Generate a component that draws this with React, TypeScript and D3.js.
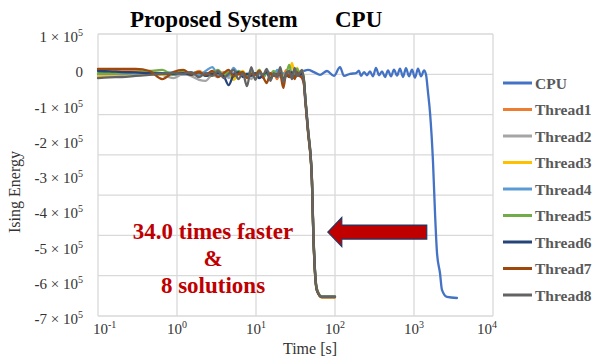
import React from 'react';
import * as d3 from 'd3';

// Ising energy vs time, proposed system (8 threads) against CPU

const W = 596;
const H = 360;
const plot = { left: 98, right: 493, top: 34, bottom: 316 };

// energies are in units of 10^5
const threadTimes = [0.1, 0.14, 0.2, 0.3, 0.45, 0.65, 0.9, 1.2, 1.5, 1.9, 2.3, 2.8, 3.3, 3.9, 4.5, 5.2, 6.0, 6.8, 7.7, 8.7, 9.8,
  11, 12.3, 13.7, 15.2, 16.8, 18.5, 20.3, 22.2, 24.2, 26.3, 28.5, 30.8, 33.2, 35.7, 38.3, 40.5, 42, 45.5, 51, 53, 56, 59, 68, 100];

const thread1 = [-0.02, -0.02, -0.04, -0.05, -0.08, -0.11, -0.12,
  -0.08, -0.13, -0.05, -0.16, -0.11, -0.19, -0.08, -0.13, -0.02, -0.16, -0.11, -0.22, -0.08, -0.16, -0.11, -0.25, -0.05, -0.19, -0.13, -0.28, -0.08, -0.16, -0.02, -0.22, -0.11, -0.19, -0.05, -0.13, -0.08,
  -0.32, -0.78, -1.66, -3.05, -4.45, -5.75, -6.22, -6.44, -6.44];
const thread2 = [-0.22, -0.19, -0.16, -0.13, -0.12, -0.16, -0.25,
  -0.13, -0.19, -0.30, -0.33, -0.16, -0.22, -0.11, -0.25, -0.16, -0.08, -0.19, -0.13, -0.28, -0.11, -0.22, -0.16, -0.08, -0.25, -0.13, -0.19, -0.05, -0.28, -0.16, -0.11, -0.22, -0.08, -0.19, -0.13, -0.16,
  -0.36, -0.82, -1.72, -3.12, -4.55, -5.8, -6.26, -6.46, -6.46];
const thread3 = [-0.18, -0.18, -0.18, -0.16, -0.16, -0.15, -0.13,
  -0.11, -0.16, -0.08, -0.13, -0.19, -0.05, -0.13, -0.08, -0.30, -0.13, -0.05, -0.22, -0.11, -0.16, -0.02, -0.19, -0.08, -0.25, -0.11, -0.16, 0.01, -0.19, -0.08, -0.13, 0.18, -0.11, 0.04, -0.13, -0.05,
  -0.3, -0.8, -1.75, -3.15, -4.6, -5.85, -6.28, -6.47, -6.47];
const thread4 = [-0.13, -0.13, -0.13, -0.12, -0.11, -0.11, -0.08,
  -0.13, -0.08, -0.16, -0.05, 0.06, -0.16, -0.11, -0.19, 0.04, -0.13, -0.08, -0.22, -0.02, -0.16, -0.11, -0.25, -0.05, -0.13, -0.19, -0.02, -0.22, -0.11, -0.16, -0.05, -0.25, -0.08, -0.13, -0.19, -0.11,
  -0.34, -0.79, -1.7, -3.1, -4.5, -5.78, -6.25, -6.45, -6.45];
const thread5 = [-0.11, -0.11, -0.09, -0.08, -0.05, -0.02, -0.16,
  -0.05, -0.13, -0.08, -0.19, -0.11, -0.02, -0.16, -0.08, -0.22, -0.05, -0.13, -0.19, -0.08, -0.16, -0.02, -0.22, -0.11, -0.13, -0.05, -0.19, -0.08, -0.25, -0.13, 0.12, -0.16, -0.08, 0.01, -0.13, -0.05,
  -0.3, -0.76, -1.68, -3.08, -4.5, -5.76, -6.24, -6.45, -6.45];
const thread6 = [-0.05, -0.06, -0.08, -0.09, -0.11, -0.12, -0.13,
  -0.11, -0.16, -0.08, -0.19, -0.13, -0.11, -0.19, -0.45, -0.16, -0.08, -0.22, -0.13, -0.19, -0.11, -0.25, -0.16, -0.08, -0.28, -0.13, -0.19, -0.11, -0.30, -0.16, -0.22, -0.08, -0.25, -0.13, -0.19, -0.11,
  -0.35, -0.82, -1.73, -3.12, -4.55, -5.8, -6.27, -6.46, -6.46];
const thread7 = [0.01, 0.01, 0.01, 0.01, -0.05, -0.28, -0.08,
  -0.02, -0.13, -0.08, -0.16, -0.05, -0.22, -0.11, -0.02, -0.19, -0.13, -0.08, -0.25, -0.13, -0.16, -0.05, -0.22, -0.39, -0.11, -0.19, -0.13, -0.16, -0.53, -0.08, -0.22, -0.13, -0.28, -0.08, -0.19, -0.25,
  -0.45, -0.9, -1.78, -3.15, -4.6, -5.85, -6.28, -6.47, -6.47];
const thread8 = [-0.25, -0.23, -0.22, -0.19, -0.16, -0.13, -0.11,
  -0.13, -0.08, -0.22, -0.11, -0.19, -0.05, -0.25, -0.13, -0.02, -0.28, -0.11, -0.48, 0.06, -0.30, -0.08, -0.16, 0.01, -0.33, -0.11, -0.22, 0.06, -0.36, -0.13, -0.05, -0.28, 0.04, -0.19, -0.11, -0.02,
  -0.38, -0.83, -1.72, -3.12, -4.56, -5.8, -6.26, -6.46, -6.46];

const cpuTimes = [0.1, 0.3, 1, 3, 10, 20, 30, 39.4, 45.5, 54.2, 64.6, 79.2, 97.1, 115.7, 130, 155, 184.5, 201, 213, 233, 254, 277,
  303, 330, 361, 394, 430, 469, 512, 558, 610, 665, 726, 792, 865, 944, 1030, 1124, 1227, 1340, 1419,
  1503, 1596, 1742, 1845, 1955, 2133, 2260, 2616, 3499];
const cpuEnergy = [-0.14, -0.12, -0.15, -0.1, -0.14, -0.12, -0.1, -0.05, -0.02, -0.08, -0.16, -0.05, -0.19, 0.06, -0.19, -0.13, -0.11, -0.04, -0.19, -0.08, -0.17, -0.06,
  -0.2, 0.04, -0.17, -0.06, -0.22, -0.03, -0.2, -0.01, -0.18, 0.02, -0.22, 0.03, -0.2, -0.01, -0.24, 0.02, -0.2, -0.03, -0.15,
  -0.65, -1.24, -2.66, -4.08, -5.21, -5.78, -6.26, -6.46, -6.49];

const seriesNames = ['CPU', 'Thread1', 'Thread2', 'Thread3', 'Thread4', 'Thread5', 'Thread6', 'Thread7', 'Thread8'];
const seriesColors = ['#4472C4', '#ED7D31', '#A5A5A5', '#FFC000', '#5B9BD5', '#70AD47', '#264478', '#9E480E', '#636363'];
const threads = [thread1, thread2, thread3, thread4, thread5, thread6, thread7, thread8];

const yTicks = [1, 0, -1, -2, -3, -4, -5, -6, -7];
const xTickExps = [-1, 0, 1, 2, 3, 4];
const gridRows = 7;

// arrow: from CPU finish back to threads finish
const arrowFrom = 1450;
const arrowTo = 81;
const arrowE = -4.62;

const annotation = ['34.0 times faster', '&', '8 solutions'];

const serif = '"Liberation Serif", "Times New Roman", "DejaVu Serif", serif';

export default function App() {
  const x = d3.scaleLog().domain([0.1, 1e4]).range([plot.left, plot.right]);
  const y = d3.scaleLinear().domain([1, -7]).range([plot.top, plot.bottom]);
  const grid = d3.scaleLinear().domain([0, gridRows]).range([plot.top, plot.bottom]);

  const line = d3.line<[number, number]>()
    .x(d => x(d[0]))
    .y(d => y(d[1]))
    .curve(d3.curveMonotoneX);

  const series = [
    { name: seriesNames[0], color: seriesColors[0], pts: d3.zip(cpuTimes, cpuEnergy) as [number, number][] },
    ...threads.map((e, i) => ({
      name: seriesNames[i + 1],
      color: seriesColors[i + 1],
      pts: d3.zip(threadTimes, e) as [number, number][],
    })),
  ];

  const ax0 = x(arrowTo);
  const ax1 = x(arrowFrom);
  const ay = y(arrowE);
  const head = 14;
  const headHalf = 14.5;
  const shaftHalf = 7;
  const arrowPath = `M${ax0},${ay} L${ax0 + head},${ay - headHalf} L${ax0 + head},${ay - shaftHalf} L${ax1},${ay - shaftHalf} L${ax1},${ay + shaftHalf} L${ax0 + head},${ay + shaftHalf} L${ax0 + head},${ay + headHalf} Z`;

  return (
    <svg width={W} height={H} style={{ position: 'absolute', left: 0, top: 0, background: '#fff' }}>
      {/* grid */}
      <g stroke="#D9D9D9" strokeWidth={1.3}>
        {d3.range(gridRows + 1).map(i => (
          <line key={'h' + i} x1={plot.left} x2={plot.right} y1={grid(i)} y2={grid(i)} />
        ))}
        {xTickExps.map(e => (
          <line key={'v' + e} x1={x(Math.pow(10, e))} x2={x(Math.pow(10, e))} y1={plot.top} y2={plot.bottom} />
        ))}
      </g>

      {/* y tick labels */}
      <g fill="#333" fontSize={15} textAnchor="end" fontFamily={serif}>
        {yTicks.map(v => (
          <text key={v} x={83} y={y(v) + 8}>
            {v < 0 && <tspan fontWeight="bold">-</tspan>}
            {v === 0 ? '0' : (
              <>
                {`${Math.abs(v)} × 10`}
                <tspan dy={-6} fontSize={10}>5</tspan>
              </>
            )}
          </text>
        ))}
      </g>

      {/* x tick labels */}
      <g fill="#333" fontSize={15} fontFamily={serif}>
        {xTickExps.map((e, i) => {
          const px = x(Math.pow(10, e));
          const anchor = i === 0 ? 'start' : i === xTickExps.length - 1 ? 'end' : 'middle';
          const tx = i === 0 ? px - 5 : i === xTickExps.length - 1 ? px + 4 : px;
          return (
            <text key={e} x={tx} y={334} textAnchor={anchor}>
              10<tspan dy={-6} fontSize={10}>{e}</tspan>
            </text>
          );
        })}
      </g>

      {/* axis titles */}
      <g fontFamily={serif} fontSize={16} fill="#333" textAnchor="middle">
        <text x={310} y={354}>Time [s]</text>
        <text transform="translate(20,192) rotate(-90)">Ising Energy</text>
      </g>

      {/* chart titles */}
      <g fontFamily={serif} fontSize={23} fontWeight="bold" fill="#000">
        <text x={130} y={27}>Proposed System</text>
        <text x={335} y={27}>CPU</text>
      </g>

      {/* series */}
      <g fill="none" strokeWidth={2.3} strokeLinejoin="round" strokeLinecap="round">
        {series.map(s => (
          <path key={s.name} d={line(s.pts) || ''} stroke={s.color} />
        ))}
      </g>

      {/* annotation */}
      <path d={arrowPath} fill="#C00000" stroke="#1F3864" strokeWidth={1.2} />
      <g fill="#C00000" fontSize={23} fontWeight="bold" textAnchor="middle" fontFamily={serif}>
        {annotation.map((t, i) => (
          <text key={t} x={213} y={239 + i * 27}>{t}</text>
        ))}
      </g>

      {/* legend */}
      <g fontFamily={serif}>
        {series.map((s, i) => {
          const ly = 83 + i * 26.5;
          return (
            <g key={s.name}>
              <line x1={503} x2={532} y1={ly} y2={ly} stroke={s.color} strokeWidth={3} />
              <text x={535} y={ly + 5.5} fontSize={15.5} fontWeight="bold" fill="#595959">{s.name}</text>
            </g>
          );
        })}
      </g>
    </svg>
  );
}
